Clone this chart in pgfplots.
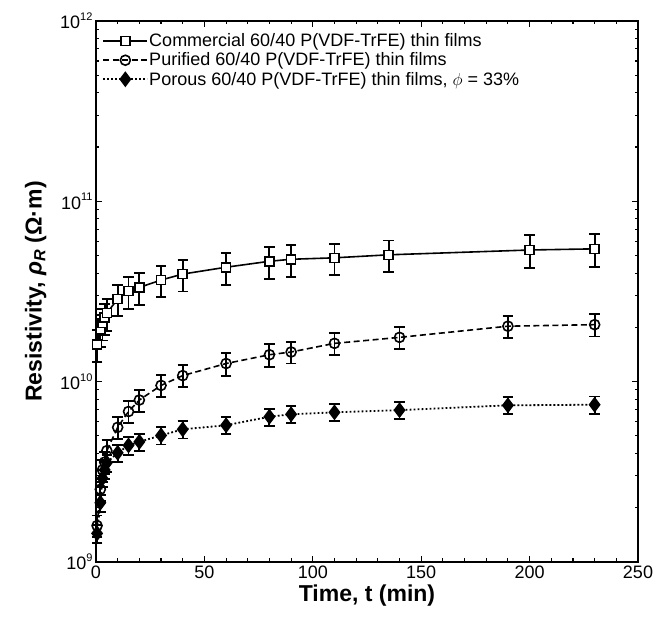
\documentclass[border=0pt]{standalone}
\usepackage{pgfplots}
\pgfplotsset{compat=1.18}
\usepackage{pgfplotstable}
\usepackage{fontspec}
\setmainfont{Liberation Sans}
\newcommand{\ex}[1]{10\raisebox{0.85ex}{\fontsize{11}{12}\selectfont #1}}

\pgfplotstableread{
x y e
0.5 1.61e10 0.32e10
2 1.95e10 0.39e10
3 2.11e10 0.42e10
4 2.26e10 0.45e10
5 2.40e10 0.48e10
10 2.87e10 0.57e10
15 3.18e10 0.64e10
20 3.33e10 0.67e10
30 3.66e10 0.73e10
40 3.95e10 0.79e10
60 4.31e10 0.86e10
80 4.65e10 0.93e10
90 4.77e10 0.95e10
110 4.86e10 0.97e10
135 5.05e10 1.01e10
200 5.37e10 1.10e10
230 5.45e10 1.15e10
}\commercial

\pgfplotstableread{
x y e
0.5 1.59e9 0.22e9
2 2.53e9 0.35e9
3 3.24e9 0.45e9
4 3.58e9 0.50e9
5 4.14e9 0.58e9
10 5.58e9 0.78e9
15 6.83e9 0.96e9
20 7.91e9 1.11e9
30 9.53e9 1.33e9
40 1.08e10 0.15e10
60 1.26e10 0.18e10
80 1.41e10 0.20e10
90 1.46e10 0.20e10
110 1.63e10 0.23e10
140 1.76e10 0.25e10
190 2.03e10 0.28e10
230 2.07e10 0.29e10
}\purified

\pgfplotstableread{
x y e
0.5 1.44e9 0.16e9
2 2.13e9 0.23e9
3 2.91e9 0.32e9
4 3.24e9 0.36e9
5 3.55e9 0.39e9
10 4.03e9 0.44e9
15 4.43e9 0.49e9
20 4.64e9 0.51e9
30 5.03e9 0.55e9
40 5.44e9 0.60e9
60 5.73e9 0.63e9
80 6.39e9 0.70e9
90 6.59e9 0.72e9
110 6.76e9 0.74e9
140 6.95e9 0.76e9
190 7.39e9 0.81e9
230 7.45e9 0.82e9
}\porous

\begin{document}
\begin{tikzpicture}
\begin{semilogyaxis}[
  scale only axis, width=542pt, height=541pt,
  xmin=0, xmax=250, ymin=1e9, ymax=1e12,
  xtick={0,50,100,150,200,250}, minor x tick num=4,
  ytick={1e9,1e10,1e11,1e12},
  yticklabels={\ex{9},\ex{10},\ex{11},\ex{12}},
  /pgf/number format/assume math mode=true,
  ticklabel style={font=\fontsize{18}{21}\selectfont},
  xlabel={\textbf{Time, t (min)}},
  ylabel={\textbf{Resistivity, \textit{ρ}\textsubscript{\textit{R}} (Ω·m)}},
  label style={font=\fontsize{23}{27}\selectfont},
  ylabel style={yshift=7pt},
  axis line style={line width=1.8pt},
  major tick length=6pt, minor tick length=3.5pt,
  every tick/.style={black, line width=1.1pt},
  clip=false,
  legend cell align=left,
  legend style={draw=none, fill=none, at={(0.006,0.982)}, anchor=north west,
    font=\fontsize{18}{21}\selectfont, nodes={inner sep=1pt}, row sep=2.5pt},
  legend image code/.code={
    \draw[mark repeat=2,mark phase=2,#1] plot coordinates {(0pt,0pt) (22pt,0pt) (44pt,0pt)};
  },
  error bars/y dir=both, error bars/y explicit,
  error bars/error bar style={line width=1.9pt, solid},
  error bars/error mark options={rotate=90, mark size=5.2pt, line width=1.9pt, solid},
]
\addplot[black, line width=1.6pt, mark=square*, mark size=4.5pt,
  mark options={fill=white, line width=1.6pt, solid}]
  table[x=x, y=y, y error=e] {\commercial};
\addlegendentry{Commercial 60/40 P(VDF-TrFE) thin films}
\addplot[black, line width=1.6pt, dash pattern=on 6pt off 3.5pt, mark=o, mark size=5pt,
  mark options={fill=white, line width=1.6pt, solid}]
  table[x=x, y=y, y error=e] {\purified};
\addlegendentry{Purified 60/40 P(VDF-TrFE) thin films}
\addplot[black, line width=1.8pt, dash pattern=on 1.8pt off 2.2pt, mark=diamond*, mark size=6.5pt,
  mark options={fill=black, solid}]
  table[x=x, y=y, y error=e] {\porous};
\addlegendentry{Porous 60/40 P(VDF-TrFE) thin films, $\phi$ = 33\%}
\end{semilogyaxis}
\pgfresetboundingbox
\path[use as bounding box] ([shift={(-96pt,-59pt)}]current axis.south west) rectangle ([shift={(31pt,21pt)}]current axis.north east);
\end{tikzpicture}
\end{document}
